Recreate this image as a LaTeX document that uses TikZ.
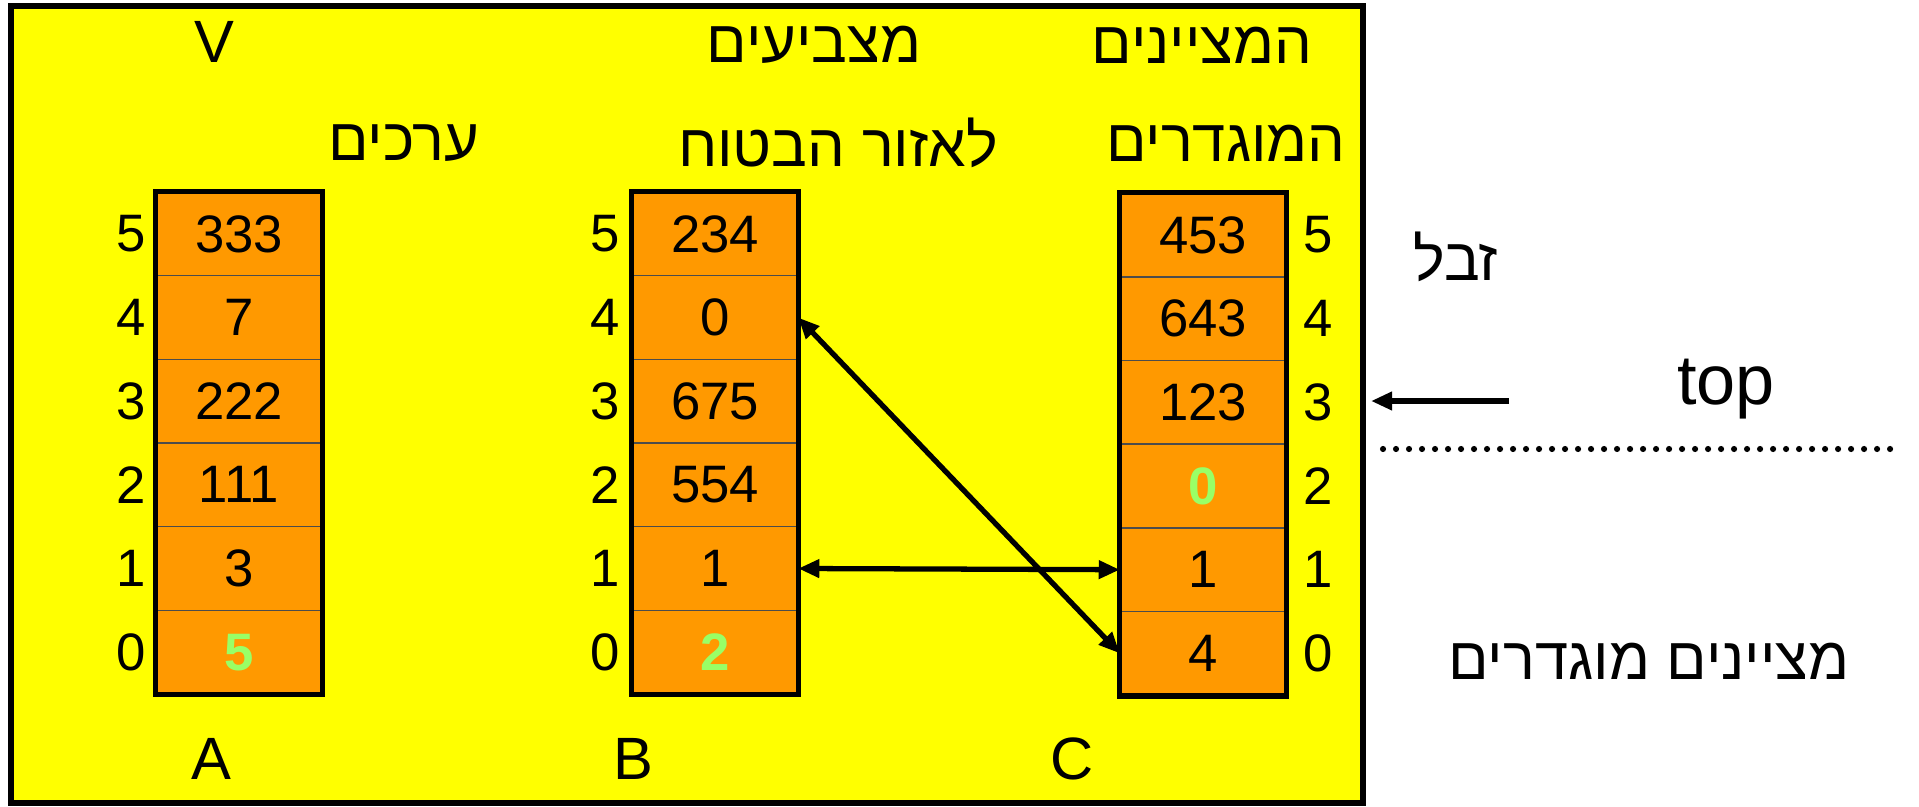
\documentclass[tikz,border=0pt]{standalone}
\usepackage{fontspec}
\setmainfont{Liberation Sans}
\newfontfamily\hebfont[Script=Hebrew]{Liberation Sans}
\TeXXeTstate=1
\usetikzlibrary{arrows.meta}

\definecolor{bgyellow}{RGB}{255,255,0}
\definecolor{cellorange}{RGB}{255,153,0}
\definecolor{valgreen}{RGB}{153,255,102}

\newcommand{\heb}[1]{{\hebfont\beginR #1\endR}}

\tikzset{
  cell/.style={draw=black!70, line width=0.8pt, fill=cellorange, minimum width=3.3cm,
    minimum height=1.673cm, inner sep=0pt, font=\fontsize{30}{36}\selectfont},
  newval/.style={text=valgreen, font=\fontsize{30}{36}\selectfont\bfseries},
  idx/.style={font=\fontsize{30}{36}\selectfont},
  txt/.style={font=\fontsize{34}{40}\selectfont},
  arrname/.style={font=\fontsize{34}{40}\selectfont},
  colframe/.style={line width=3pt},
  link/.style={line width=3pt, {Triangle[length=12pt,width=10pt]}-{Triangle[length=12pt,width=10pt]}},
}

\begin{document}
\begin{tikzpicture}[x=0.02cm, y=0.02cm]

\useasboundingbox (0,0) rectangle (1919,806);

% yellow panel
\draw[line width=3.4pt, fill=bgyellow] (11,3) rectangle (1363,800);

% headings
\node[arrname] (vtitle) at (214,764) {V};
\node[txt] (vals) at (404,663) {\heb{ערכים}};
\node[txt] (ptr1) at (814,761) {\heb{מצביעים}};
\node[txt] (ptr2) at (838,663) {\heb{לאזור הבטוח}};
\node[txt] (def1) at (1202,761) {\heb{המציינים}};
\node[txt] (def2) at (1226,663) {\heb{המוגדרים}};

% array A
\node[cell] (A5) at (239,572) {333};
\node[cell] (A4) at (239,488.5) {7};
\node[cell] (A3) at (239,404.8) {222};
\node[cell] (A2) at (239,321.2) {111};
\node[cell] (A1) at (239,237.5) {3};
\node[cell] (A0) at (239,153.8) {};
\node[newval] (A0v) at (A0) {5};
\draw[colframe] (A5.north west) rectangle (A0.south east);

% array B
\node[cell] (B5) at (715,572) {234};
\node[cell] (B4) at (715,488.5) {0};
\node[cell] (B3) at (715,404.8) {675};
\node[cell] (B2) at (715,321.2) {554};
\node[cell] (B1) at (715,237.5) {1};
\node[cell] (B0) at (715,153.8) {};
\node[newval] (B0v) at (B0) {2};
\draw[colframe] (B5.north west) rectangle (B0.south east);

% array C
\node[cell] (C5) at (1203,571) {453};
\node[cell] (C4) at (1203,487.3) {643};
\node[cell] (C3) at (1203,403.6) {123};
\node[cell] (C2) at (1203,320) {};
\node[newval] (C2v) at (C2) {0};
\node[cell] (C1) at (1203,236.3) {1};
\node[cell] (C0) at (1203,152.6) {4};
\draw[colframe] (C5.north west) rectangle (C0.south east);

% indices
\node[idx] (iA5) at (131,572) {5};
\node[idx] (iA4) at (131,488.5) {4};
\node[idx] (iA3) at (131,404.8) {3};
\node[idx] (iA2) at (131,321.2) {2};
\node[idx] (iA1) at (131,237.5) {1};
\node[idx] (iA0) at (131,153.8) {0};
\node[idx] (iB5) at (605,572) {5};
\node[idx] (iB4) at (605,488.5) {4};
\node[idx] (iB3) at (605,404.8) {3};
\node[idx] (iB2) at (605,321.2) {2};
\node[idx] (iB1) at (605,237.5) {1};
\node[idx] (iB0) at (605,153.8) {0};
\node[idx] (iC5) at (1318,571) {5};
\node[idx] (iC4) at (1318,487.3) {4};
\node[idx] (iC3) at (1318,403.6) {3};
\node[idx] (iC2) at (1318,320) {2};
\node[idx] (iC1) at (1318,236.3) {1};
\node[idx] (iC0) at (1318,152.6) {0};

% array names
\node[arrname] (nA) at (211,47) {A};
\node[arrname] (nB) at (633,47) {B};
\node[arrname] (nC) at (1072,47) {C};

% links between B and C
\draw[link] (B4.east) -- (C0.west);
\draw[link] (B1.east) -- (C1.west);

% right side notes
\node[txt] (junk) at (1456,549) {\heb{זבל}};
\node[font=\fontsize{40}{46}\selectfont] (toplbl) at (1726,417) {top};
\coordinate (topstart) at (1509,405);
\coordinate (topend) at (1371,405);
\draw[line width=3pt, -{Triangle[length=12pt,width=10pt]}] (topstart) -- (topend);
\draw[line width=3.5pt, line cap=round, dash pattern=on 0pt off 7.4pt] (1383,357) -- (1903,357);
\node[txt] (defnote) at (1649,145) {\heb{מציינים מוגדרים}};

\end{tikzpicture}
\end{document}
